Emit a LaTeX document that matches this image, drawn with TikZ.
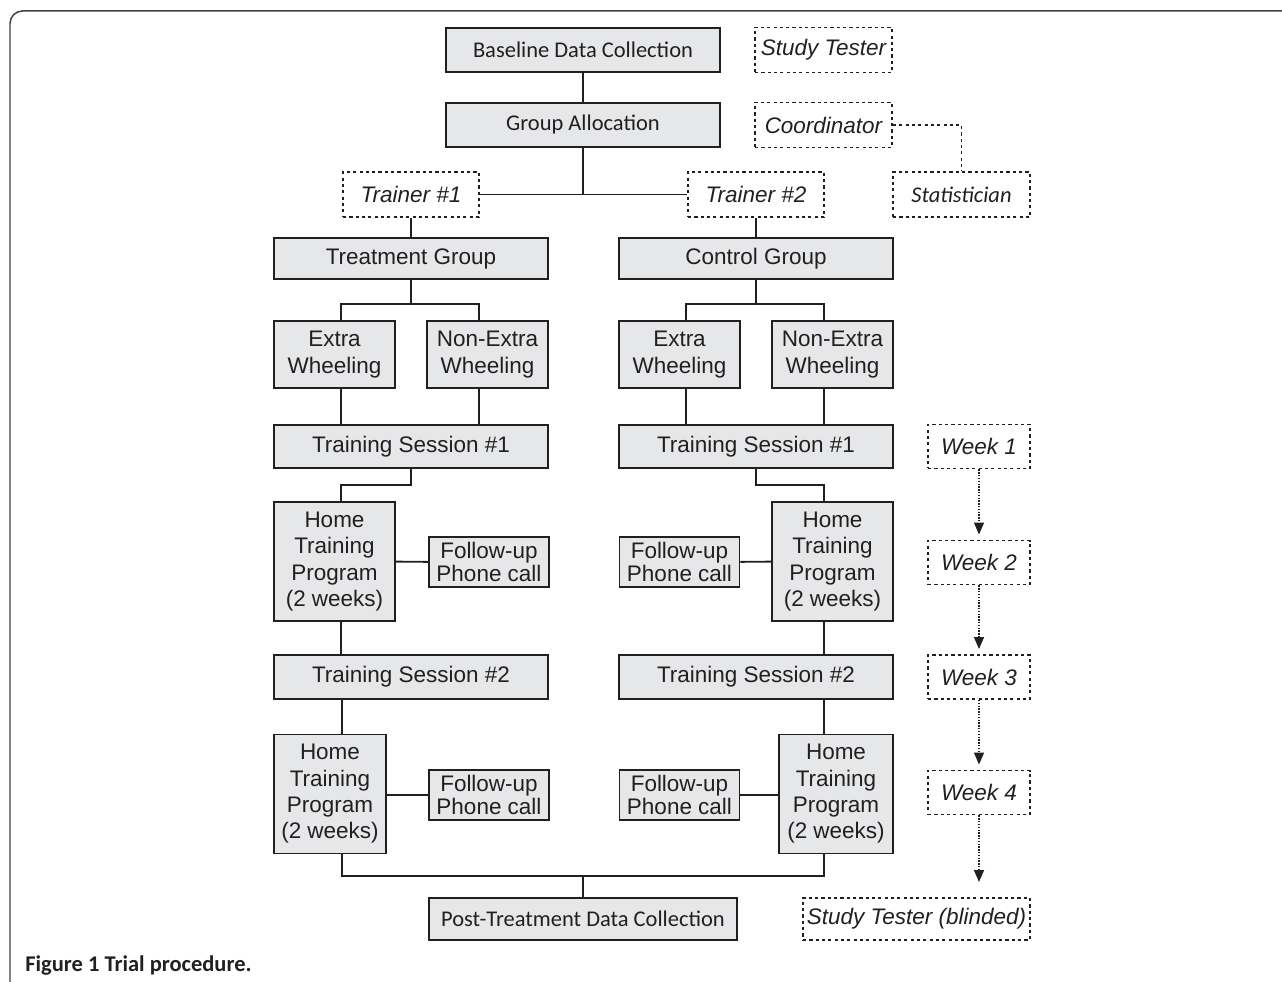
\documentclass[tikz,border=0pt]{standalone}
\usepackage{fontspec}
\setmainfont{Liberation Sans}
\newfontfamily\calibri{Carlito}
\usepackage{tikz}
\usetikzlibrary{arrows.meta}
\definecolor{ink}{HTML}{231F20}
\definecolor{boxfill}{HTML}{E6E7E8}

\begin{document}
\begin{tikzpicture}[x=0.02cm,y=-0.02cm,
  every node/.style={font=\fontsize{12.8}{15}\selectfont,inner sep=0pt,align=center,text=ink},
  box/.style={draw=ink,line width=1.1pt,fill=boxfill},
  tag/.style={draw=ink,line width=1.1pt,dash pattern=on 1.8pt off 1.8pt,
    font=\fontsize{12.8}{15}\selectfont\itshape},
  calib/.style={font=\calibri\fontsize{12.8}{15}\selectfont},
  wide/.style={minimum width=5.48cm,minimum height=0.88cm},
  choice/.style={minimum width=2.42cm,minimum height=1.34cm},
  home/.style={minimum width=2.42cm,minimum height=2.38cm},
  call/.style={minimum width=2.4cm,minimum height=1cm,font=\fontsize{12.8}{13.2}\selectfont},
  role/.style={minimum width=2.74cm,minimum height=0.9cm},
  week/.style={minimum width=2.04cm,minimum height=0.88cm},
  link/.style={draw=ink,line width=1.1pt},
  weekarrow/.style={draw=ink,line width=0.8pt,dash pattern=on 0.8pt off 0.8pt,
    -{Triangle[width=0.2cm,length=0.24cm]},shorten >=0.1cm}]
  \useasboundingbox (0,0) rectangle (1282,982);
  \draw[line width=0.85pt,draw=ink!85,rounded corners=0.25cm] (10,990) |- (1290,11);

  \node[box,wide,calib] (base) at (583,50) {Baseline Data Collection};
  \node[box,wide,calib] (alloc) at (583,125) {Group Allocation};
  \node[tag,role] (tester) at (823.5,50) {Study Tester};
  \node[tag,role] (coord) at (823.5,125) {Coordinator};
  \node[tag,role,font=\calibri\fontsize{12.8}{15}\selectfont\itshape] (stat) at (961.5,194.5) {Statistician};
  \node[tag,role,minimum width=2.72cm] (trainA) at (411,194.5) {Trainer \#1};
  \node[tag,role,minimum width=2.72cm] (trainB) at (756,194.5) {Trainer \#2};
  \coordinate (split) at (583,195);

  \node[box,wide,minimum height=0.82cm] (treat) at (411,258.5) {Treatment Group};
  \node[box,wide,minimum height=0.82cm] (ctrl) at (756,258.5) {Control Group};
  \node[box,choice] (extraA) at (334.5,354.5) {Extra\\Wheeling};
  \node[box,choice] (nonA) at (487.5,354.5) {Non-Extra\\Wheeling};
  \node[box,choice] (extraB) at (679.5,354.5) {Extra\\Wheeling};
  \node[box,choice] (nonB) at (832.5,354.5) {Non-Extra\\Wheeling};

  \node[box,wide,minimum height=0.86cm] (sesA1) at (411,446.5) {Training Session \#1};
  \node[box,wide,minimum height=0.86cm] (sesB1) at (756,446.5) {Training Session \#1};
  \node[box,home] (homeA1) at (334.5,561.5) {Home\\Training\\Program\\(2 weeks)};
  \node[box,call] (callA1) at (489,562) {Follow-up\\Phone call};
  \node[box,home] (homeB1) at (832.5,561.5) {Home\\Training\\Program\\(2 weeks)};
  \node[box,call] (callB1) at (679.5,562) {Follow-up\\Phone call};

  \node[box,wide] (sesA2) at (411,677) {Training Session \#2};
  \node[box,wide] (sesB2) at (756,677) {Training Session \#2};
  \node[box,home,minimum width=2.24cm] (homeA2) at (330,794) {Home\\Training\\Program\\(2 weeks)};
  \node[box,call] (callA2) at (489,795) {Follow-up\\Phone call};
  \node[box,home,minimum width=2.28cm] (homeB2) at (836,794) {Home\\Training\\Program\\(2 weeks)};
  \node[box,call] (callB2) at (679.5,795) {Follow-up\\Phone call};

  \node[box,calib,minimum width=6.16cm,minimum height=0.84cm] (post) at (583,919) {Post-Treatment Data Collection};
  \node[tag,role,minimum width=4.54cm,minimum height=0.84cm] (blind) at (916.5,919) {Study Tester (blinded)};

  \node[tag,week] (week1) at (979,446.5) {Week 1};
  \node[tag,week] (week2) at (979,562.5) {Week 2};
  \node[tag,week] (week3) at (979,677) {Week 3};
  \node[tag,week] (week4) at (979,792.5) {Week 4};
  \coordinate (weekend) at (979,882);

  \node[anchor=base west,font=\calibri\bfseries\fontsize{12.8}{15}\selectfont] (caption) at (25,971) {Figure 1 Trial procedure.};

  % solid links
  \draw[link] (base) -- (alloc);
  \draw[link] (alloc) -- (split);
  \draw[link] (trainA) -- (trainB);
  \draw[link] (trainA) -- (treat);
  \draw[link] (trainB) -- (ctrl);
  \draw[link] (treat.south) -- ++(0,24) coordinate (forkA);
  \draw[link] ([xshift=0.13cm]extraA.north) |- (forkA) -| ([xshift=-0.17cm]nonA.north);
  \draw[link] (ctrl.south) -- ++(0,24) coordinate (forkB);
  \draw[link] ([xshift=0.13cm]extraB.north) |- (forkB) -| ([xshift=-0.17cm]nonB.north);
  \draw[link] ([xshift=0.13cm]extraA.south) -- ([xshift=0.13cm]extraA.south |- sesA1.north);
  \draw[link] ([xshift=-0.17cm]nonA.south) -- ([xshift=-0.17cm]nonA.south |- sesA1.north);
  \draw[link] ([xshift=0.13cm]extraB.south) -- ([xshift=0.13cm]extraB.south |- sesB1.north);
  \draw[link] ([xshift=-0.17cm]nonB.south) -- ([xshift=-0.17cm]nonB.south |- sesB1.north);

  \draw[link] (sesA1.south) -- ++(0,16) -| ([xshift=0.13cm]homeA1.north);
  \draw[link] (sesB1.south) -- ++(0,16) -| ([xshift=-0.17cm]homeB1.north);
  \draw[link] (homeA1) -- (callA1);
  \draw[link] (homeB1) -- (callB1);
  \draw[link] ([xshift=0.13cm]homeA1.south) -- ([xshift=0.13cm]homeA1.south |- sesA2.north);
  \draw[link] ([xshift=-0.17cm]homeB1.south) -- ([xshift=-0.17cm]homeB1.south |- sesB2.north);
  \draw[link] ([xshift=0.24cm]homeA2.north |- sesA2.south) -- ([xshift=0.24cm]homeA2.north);
  \draw[link] ([xshift=-0.24cm]homeB2.north |- sesB2.south) -- ([xshift=-0.24cm]homeB2.north);
  \draw[link] (homeA2.east |- callA2) -- (callA2);
  \draw[link] (homeB2.west |- callB2) -- (callB2);
  \draw[link] (post.north) -- ++(0,-21) coordinate (join);
  \draw[link] ([xshift=0.24cm]homeA2.south) |- (join) -| ([xshift=-0.24cm]homeB2.south);

  % dashed and dotted
  \draw[draw=ink,line width=1.1pt,dash pattern=on 1.8pt off 1.8pt] (coord) -| (stat);
  \draw[weekarrow] (week1) -- (week2);
  \draw[weekarrow] (week2) -- (week3);
  \draw[weekarrow] (week3) -- (week4);
  \draw[weekarrow,shorten >=0pt] (week4) -- (weekend);
\end{tikzpicture}
\end{document}
